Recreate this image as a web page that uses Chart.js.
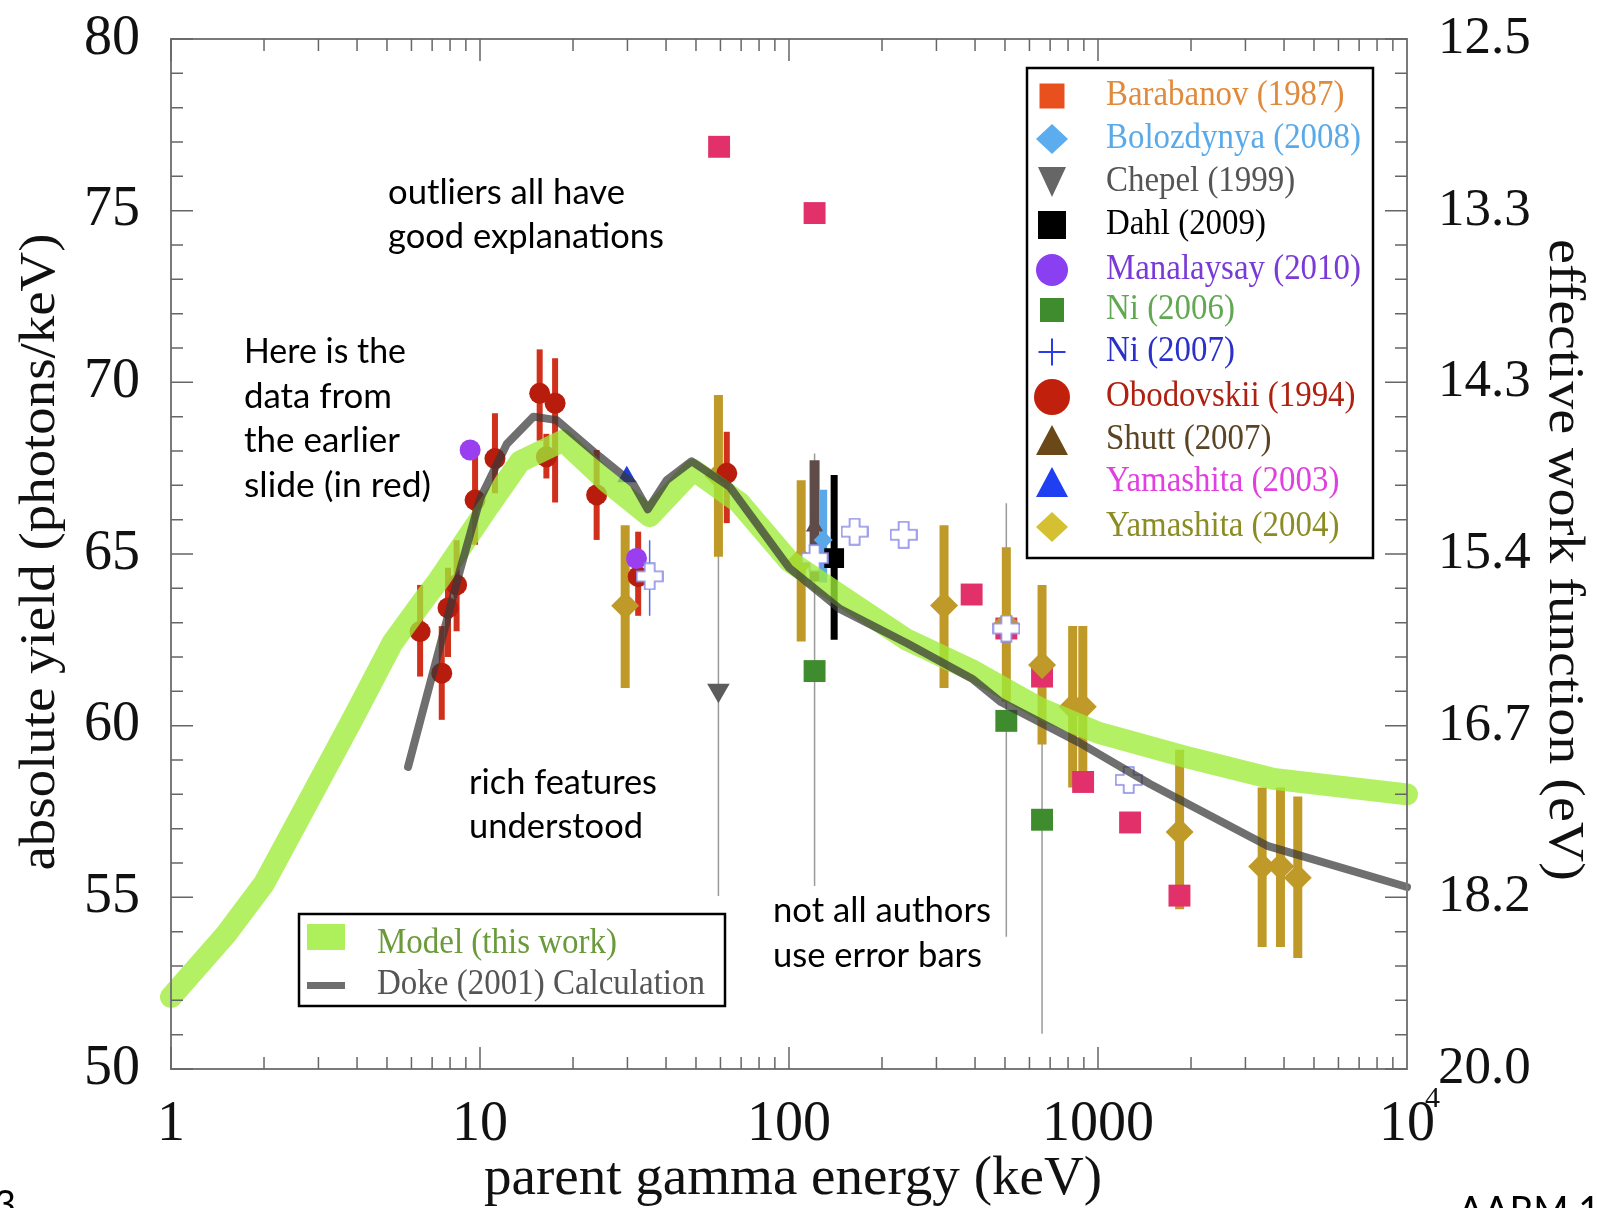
<!DOCTYPE html>
<html>
<head>
<meta charset="utf-8">
<script src="https://cdn.jsdelivr.net/npm/chart.js@4.4.0/dist/chart.umd.min.js"></script>
<style>
  html, body { margin: 0; padding: 0; background: #fff; }
  canvas { display: block; }
</style>
</head>
<body>
<canvas id="graph" width="1597" height="1208"></canvas>
<script>
//---------------------------------------------------------------------
// DATA (energy in keV, yield in photons/keV)
//---------------------------------------------------------------------
const modelX = [1, 1.5, 2, 2.6, 3.9, 5.2, 6.5, 7.3, 10.5, 13.5, 18.6, 25.8, 35.4, 49, 69, 100, 146, 241, 394, 650, 1000, 2000, 3700, 10000];
const modelY = [52.1, 53.9, 55.4, 57.3, 60.25, 62.4, 63.6, 64.2, 66.3, 67.7, 68.3, 67.1, 66.1, 67.45, 66.5, 64.8, 63.8, 62.5, 61.6, 60.5, 59.8, 59.05, 58.45, 58.0];

const dokeX = [5.85, 8.6, 10, 12.2, 14.9, 17.7, 23.9, 31.3, 34.9, 40.2, 48.4, 64.4, 100, 146, 241, 394, 483, 873, 1473, 3531, 10000];
const dokeY = [58.8, 64.5, 66.6, 68.2, 69.0, 68.9, 67.9, 67.05, 66.3, 67.15, 67.7, 66.95, 64.6, 63.4, 62.4, 61.35, 60.7, 59.5, 58.3, 56.5, 55.3];

const barabanovX = [59.4, 121, 390, 505, 659, 895, 1270, 1835];
const barabanovY = [76.86, 74.93, 63.82, 62.83, 61.43, 58.36, 57.18, 55.05];

const bolozdynyaX = [129];
const bolozdynyaY = [65.41];
const bolozdynyaLo = [64.17];
const bolozdynyaHi = [66.87];

const chepelX = [59.1];
const chepelY = [61.03];
const chepelLo = [55.04];
const chepelHi = [67.0];

const dahlX = [140];
const dahlY = [64.88];
const dahlLo = [62.5];
const dahlHi = [67.3];

const manalaysayX = [9.29, 32.1];
const manalaysayY = [68.03, 64.87];

const ni2006X = [121, 505, 659];
const ni2006Y = [61.59, 60.14, 57.26];
const ni2006Lo = [55.33, 53.85, 51.03];
const ni2006Hi = [67.93, 66.48, 63.5];

const ni2007X = [35.4, 121, 163, 235, 505, 1257];
const ni2007Y = [64.35, 64.88, 65.65, 65.56, 62.83, 58.42];
const ni2007Lo = [63.2, null, null, null, null, null];
const ni2007Hi = [65.4, null, null, null, null, null];

const obodovskiiX = [6.4, 7.52, 7.88, 8.4, 9.64, 11.18, 15.6, 16.4, 17.5, 23.85, 32.5, 62.9];
const obodovskiiY = [62.74, 61.53, 63.43, 64.1, 66.57, 67.78, 69.68, 67.83, 69.39, 66.72, 64.34, 67.35];
const obodovskiiLo = [61.43, 60.17, 62.0, 62.75, 65.27, 66.77, 68.3, 67.2, 66.5, 65.41, 63.2, 65.9];
const obodovskiiHi = [64.1, 62.9, 64.6, 65.4, 68.0, 69.1, 70.96, 68.5, 70.7, 68.03, 65.65, 68.56];

const shuttX = [121];
const shuttY = [65.8];
const shuttLo = [64.2];
const shuttHi = [67.73];

const yama2003X = [29.85];
const yama2003Y = [67.25];

const yama2004X = [29.5, 59.1, 109.5, 317.5, 505, 659, 828, 893, 1837, 3398, 3895, 4431];
const yama2004Y = [63.49, 67.27, 64.8, 63.5, 62.95, 61.77, 60.55, 60.55, 56.9, 55.9, 55.9, 55.57];
const yama2004Lo = [61.1, 64.92, 62.45, 61.1, 60.7, 59.45, 58.2, 58.2, 54.65, 53.55, 53.55, 53.23];
const yama2004Hi = [65.84, 69.63, 67.15, 65.84, 65.2, 64.1, 62.9, 62.9, 59.3, 58.2, 58.2, 57.94];

// axes
const xTicks = [1, 10, 100, 1000, 10000];
const xTickLabels = ['1', '10', '100', '1000', '10'];
const yTicks = [50, 55, 60, 65, 70, 75, 80];
const yLeftLabels = ['50', '55', '60', '65', '70', '75', '80'];
const yRightLabels = ['20.0', '18.2', '16.7', '15.4', '14.3', '13.3', '12.5'];

const xTitle = 'parent gamma energy (keV)';
const yTitle = 'absolute yield (photons/keV)';
const y2Title = 'effective work function (eV)';

const legendLabels = ['Barabanov (1987)', 'Bolozdynya (2008)', 'Chepel (1999)', 'Dahl (2009)', 'Manalaysay (2010)',
  'Ni (2006)', 'Ni (2007)', 'Obodovskii (1994)', 'Shutt (2007)', 'Yamashita (2003)', 'Yamashita (2004)'];
const curveLabels = ['Model (this work)', 'Doke (2001) Calculation'];

//---------------------------------------------------------------------
// HELPERS
//---------------------------------------------------------------------
const SERIF = '"Liberation Serif", "Times New Roman", serif';
const SANS = 'Lato, "Open Sans", sans-serif';

const pts = (xs, ys) => xs.map((x, i) => ({ x: x, y: ys[i] }));

// hollow fat cross used by Ni (2007)
function makeCross(size, arm, stroke) {
    const c = document.createElement('canvas');
    c.width = c.height = size;
    const g = c.getContext('2d');
    const s = 1, e = size - 1, a = (size - arm) / 2, b = a + arm;
    g.beginPath();
    g.moveTo(a, s); g.lineTo(b, s); g.lineTo(b, a); g.lineTo(e, a); g.lineTo(e, b); g.lineTo(b, b);
    g.lineTo(b, e); g.lineTo(a, e); g.lineTo(a, b); g.lineTo(s, b); g.lineTo(s, a); g.lineTo(a, a);
    g.closePath();
    g.fillStyle = '#fff';
    g.fill();
    g.strokeStyle = stroke;
    g.lineWidth = 1.6;
    g.stroke();
    return c;
}

function stretchText(ctx, text, x, y, font, width, align, angle) {
    ctx.save();
    ctx.translate(x, y);
    if (angle) ctx.rotate(angle);
    ctx.font = font;
    const w = ctx.measureText(text).width;
    ctx.scale(width ? width / w : 1, 1);
    ctx.textAlign = align || 'left';
    ctx.fillText(text, 0, 0);
    ctx.restore();
}

function marker(ctx, kind, x, y, w, h, color) {
    ctx.fillStyle = color;
    ctx.strokeStyle = color;
    ctx.beginPath();
    if (kind === 'square') {
        ctx.rect(x - w / 2, y - h / 2, w, h);
    } else if (kind === 'diamond') {
        ctx.moveTo(x, y - h / 2); ctx.lineTo(x + w / 2, y); ctx.lineTo(x, y + h / 2); ctx.lineTo(x - w / 2, y);
    } else if (kind === 'circle') {
        ctx.arc(x, y, w / 2, 0, Math.PI * 2);
    } else if (kind === 'tri') {
        ctx.moveTo(x, y - h / 2); ctx.lineTo(x + w / 2, y + h / 2); ctx.lineTo(x - w / 2, y + h / 2);
    } else if (kind === 'tridown') {
        ctx.moveTo(x - w / 2, y - h / 2); ctx.lineTo(x + w / 2, y - h / 2); ctx.lineTo(x, y + h / 2);
    } else if (kind === 'plus') {
        ctx.lineWidth = 2;
        ctx.moveTo(x - w / 2, y); ctx.lineTo(x + w / 2, y);
        ctx.moveTo(x, y - h / 2); ctx.lineTo(x, y + h / 2);
        ctx.stroke();
        return;
    }
    ctx.closePath();
    ctx.fill();
}

//---------------------------------------------------------------------
// PLUGINS
//---------------------------------------------------------------------
// vertical error bars, under the markers
const errorBars = {
    id: 'errorBars',
    beforeDatasetsDraw(chart) {
        const ctx = chart.ctx, sx = chart.scales.x, sy = chart.scales.y;
        const sets = chart.data.datasets.filter(d => d.errLo).sort((a, b) => a.errZ - b.errZ);
        ctx.save();
        ctx.lineCap = 'butt';
        sets.forEach(ds => {
            ctx.strokeStyle = ds.errColor;
            ctx.lineWidth = ds.errWidth;
            ds.data.forEach((p, i) => {
                if (ds.errLo[i] == null) return;
                const px = sx.getPixelForValue(p.x);
                ctx.beginPath();
                ctx.moveTo(px, sy.getPixelForValue(ds.errLo[i]));
                ctx.lineTo(px, sy.getPixelForValue(ds.errHi[i]));
                ctx.stroke();
            });
        });
        ctx.restore();
    }
};

// box, inward ticks, titles, legends, notes
const decorations = {
    id: 'decorations',
    afterDraw(chart) {
        const ctx = chart.ctx, a = chart.chartArea;
        const sx = chart.scales.x, sy = chart.scales.y;
        ctx.save();

        // frame + ticks
        ctx.strokeStyle = '#7a7a7a';
        ctx.lineWidth = 2;
        ctx.strokeRect(a.left, a.top, a.right - a.left, a.bottom - a.top);
        ctx.strokeStyle = '#666';
        ctx.lineWidth = 1.5;
        ctx.beginPath();
        for (let v = 50; v <= 80; v++) {
            const py = sy.getPixelForValue(v), len = v % 5 === 0 ? 22 : 12;
            ctx.moveTo(a.left, py); ctx.lineTo(a.left + len, py);
            ctx.moveTo(a.right, py); ctx.lineTo(a.right - len, py);
        }
        for (let k = 0; k < 4; k++) {
            for (let m = 1; m <= 9; m++) {
                const px = sx.getPixelForValue(m * Math.pow(10, k)), len = m === 1 ? 22 : 12;
                ctx.moveTo(px, a.bottom); ctx.lineTo(px, a.bottom - len);
                ctx.moveTo(px, a.top); ctx.lineTo(px, a.top + len);
            }
        }
        ctx.stroke();

        // exponent of 10^4
        ctx.fillStyle = '#111';
        ctx.font = '30px ' + SERIF;
        ctx.textBaseline = 'top';
        ctx.fillText('4', sx.getPixelForValue(10000) + 18, 1084);

        // axis titles
        ctx.textBaseline = 'middle';
        stretchText(ctx, xTitle, 793, 1180, '54px ' + SERIF, 618, 'center');
        stretchText(ctx, yTitle, 41, 552, '50px ' + SERIF, 637, 'center', -Math.PI / 2);
        stretchText(ctx, y2Title, 1563, 560, '50px ' + SERIF, 642, 'center', Math.PI / 2);

        // legend of the data sets
        const legendStyle = [
            ['square', 25, 25, '#e8501e', '#e08a3c'],
            ['diamond', 32, 30, '#5cacf0', '#5aaaea'],
            ['tridown', 28, 30, '#666666', '#555555'],
            ['square', 28, 28, '#000000', '#000000'],
            ['circle', 32, 32, '#8a3ff0', '#7a3ad8'],
            ['square', 24, 24, '#3e8c2e', '#62a852'],
            ['plus', 27, 27, '#2a3ce8', '#2a30c8'],
            ['circle', 36, 36, '#c0200c', '#b02010'],
            ['tri', 32, 30, '#6a4818', '#5a4424'],
            ['tri', 32, 30, '#1e40f0', '#e040e0'],
            ['diamond', 32, 30, '#d4c030', '#8c8c24']
        ];
        const rowY = [96, 139, 182, 225, 270, 310, 352, 397, 440, 482, 527];
        ctx.fillStyle = '#fff';
        ctx.fillRect(1027, 68, 346, 490);
        ctx.strokeStyle = '#000';
        ctx.lineWidth = 2.5;
        ctx.strokeRect(1027, 68, 346, 490);
        legendLabels.forEach((t, i) => {
            const s = legendStyle[i];
            marker(ctx, s[0], 1052, rowY[i], s[1], s[2], s[3]);
            ctx.fillStyle = s[4];
            ctx.font = '35px ' + SERIF;
            stretchText(ctx, t, 1106, rowY[i], '35px ' + SERIF, ctx.measureText(t).width * 0.94, 'left');
        });

        // legend of the curves
        ctx.fillStyle = '#fff';
        ctx.fillRect(299, 914, 426, 92);
        ctx.strokeStyle = '#000';
        ctx.lineWidth = 2.5;
        ctx.strokeRect(299, 914, 426, 92);
        ctx.fillStyle = '#aef05c';
        ctx.fillRect(307, 924, 38, 26);
        ctx.fillStyle = '#6e6e6e';
        ctx.fillRect(307, 982, 38, 7);
        ctx.fillStyle = '#6a9a3a';
        stretchText(ctx, curveLabels[0], 377, 944, '35px ' + SERIF, 240, 'left');
        ctx.fillStyle = '#555';
        stretchText(ctx, curveLabels[1], 377, 985, '35px ' + SERIF, 328, 'left');

        // notes on the slide
        const notes = [
            ['outliers all have', 388, 204, 237],
            ['good explanations', 388, 248, 276],
            ['Here is the', 244, 363, 162],
            ['data from', 244, 408, 148],
            ['the earlier', 244, 452, 156],
            ['slide (in red)', 244, 497, 187],
            ['rich features', 469, 794, 188],
            ['understood', 469, 838, 174],
            ['not all authors', 773, 922, 218],
            ['use error bars', 773, 967, 209]
        ];
        ctx.fillStyle = '#000';
        ctx.textBaseline = 'alphabetic';
        notes.forEach(n => stretchText(ctx, n[0], n[1], n[2], '34px ' + SANS, n[3], 'left'));
        ctx.font = '38px ' + SANS;
        ctx.fillText('3', -6, 1218);
        ctx.fillText('AARM 1', 1458, 1224);

        ctx.restore();
    }
};

//---------------------------------------------------------------------
// CHART
//---------------------------------------------------------------------
const ni2007Cross = makeCross(28, 10, '#8c8ce6');

const dataSets = [
    { label: curveLabels[1], data: pts(dokeX, dokeY), showLine: true, pointRadius: 0, borderColor: 'rgba(55,55,55,0.72)',
      borderWidth: 8, tension: 0, borderCapStyle: 'round', borderJoinStyle: 'round', clip: false, order: 0 },
    { label: curveLabels[0], data: pts(modelX, modelY), showLine: true, pointRadius: 0, borderColor: 'rgba(159,236,56,0.78)',
      borderWidth: 22, tension: 0, borderCapStyle: 'round', borderJoinStyle: 'round', clip: false, order: 1 },
    { label: legendLabels[6], data: pts(ni2007X, ni2007Y), pointStyle: ni2007Cross, pointRadius: 12, order: 2,
      errLo: ni2007Lo, errHi: ni2007Hi, errColor: '#5a6ae0', errWidth: 1.5, errZ: 1 },
    { label: legendLabels[4], data: pts(manalaysayX, manalaysayY), pointStyle: 'circle', pointRadius: 10.5,
      backgroundColor: '#9a3ff0', borderWidth: 0, order: 3 },
    { label: legendLabels[3], data: pts(dahlX, dahlY), pointStyle: 'rect', pointRadius: 14, backgroundColor: '#000',
      borderWidth: 0, order: 4, errLo: dahlLo, errHi: dahlHi, errColor: '#000', errWidth: 7, errZ: 6 },
    { label: legendLabels[1], data: pts(bolozdynyaX, bolozdynyaY), pointStyle: 'rectRot', pointRadius: 9.5,
      backgroundColor: '#5aa8e8', borderWidth: 0, order: 5, errLo: bolozdynyaLo, errHi: bolozdynyaHi, errColor: '#5aa8e8', errWidth: 8, errZ: 5 },
    { label: legendLabels[8], data: pts(shuttX, shuttY), pointStyle: 'triangle', pointRadius: 10, backgroundColor: '#5f4c48',
      borderWidth: 0, order: 6, errLo: shuttLo, errHi: shuttHi, errColor: '#5f4c48', errWidth: 10, errZ: 4 },
    { label: legendLabels[9], data: pts(yama2003X, yama2003Y), pointStyle: 'triangle', pointRadius: 11,
      backgroundColor: '#1e3cd8', borderWidth: 0, order: 7 },
    { label: legendLabels[7], data: pts(obodovskiiX, obodovskiiY), pointStyle: 'circle', pointRadius: 10.5,
      backgroundColor: '#b81c0c', borderWidth: 0, order: 8, errLo: obodovskiiLo, errHi: obodovskiiHi, errColor: '#d0301c', errWidth: 6, errZ: 2 },
    { label: legendLabels[2], data: pts(chepelX, chepelY), pointStyle: 'triangle', rotation: 180, pointRadius: 13,
      backgroundColor: '#5c5c5c', borderWidth: 0, order: 9, errLo: chepelLo, errHi: chepelHi, errColor: '#9a9a9a', errWidth: 1.5, errZ: 0 },
    { label: legendLabels[10], data: pts(yama2004X, yama2004Y), pointStyle: 'rectRot', pointRadius: 14,
      backgroundColor: '#c09a28', borderWidth: 0, order: 10, errLo: yama2004Lo, errHi: yama2004Hi, errColor: '#c09a28', errWidth: 9, errZ: 3 },
    { label: legendLabels[0], data: pts(barabanovX, barabanovY), pointStyle: 'rect', pointRadius: 15.5,
      backgroundColor: '#e2306a', borderWidth: 0, order: 11 },
    { label: legendLabels[5], data: pts(ni2006X, ni2006Y), pointStyle: 'rect', pointRadius: 15.5,
      backgroundColor: '#3e8c2e', borderWidth: 0, order: 12, errLo: ni2006Lo, errHi: ni2006Hi, errColor: '#9a9a9a', errWidth: 1.5, errZ: 0 }
];

const tickFont = { family: 'Liberation Serif', size: 56 };

// fix the box sizes and drop the label overhang padding
const fitY = w => s => { s.width = w; s.paddingTop = 0; s.paddingBottom = 0; };

new Chart(document.getElementById('graph'), {
    type: 'scatter',
    data: { datasets: dataSets },
    options: {
        responsive: false,
        devicePixelRatio: 1,
        animation: false,
        events: [],
        layout: { padding: { top: 39, left: 0, right: 0, bottom: 0 } },
        plugins: { legend: { display: false }, tooltip: { enabled: false } },
        scales: {
            x: {
                type: 'logarithmic',
                min: 1,
                max: 10000,
                position: 'bottom',
                grid: { display: false, drawTicks: false },
                border: { display: false },
                afterBuildTicks: s => { s.ticks = xTicks.map(v => ({ value: v })); },
                afterFit: s => { s.height = 139; s.paddingLeft = 0; s.paddingRight = 0; },
                ticks: {
                    autoSkip: false, maxRotation: 0, padding: 23, color: '#111', font: tickFont,
                    callback: (v, i) => xTickLabels[i]
                }
            },
            y: {
                type: 'linear',
                min: 50,
                max: 80,
                position: 'left',
                grid: { display: false, drawTicks: false },
                border: { display: false },
                afterBuildTicks: s => { s.ticks = yTicks.map(v => ({ value: v })); },
                afterFit: fitY(171),
                ticks: { padding: 31, color: '#111', font: tickFont, callback: (v, i) => yLeftLabels[i] }
            },
            y2: {
                type: 'linear',
                min: 50,
                max: 80,
                position: 'right',
                grid: { display: false, drawTicks: false },
                border: { display: false },
                afterBuildTicks: s => { s.ticks = yTicks.map(v => ({ value: v })); },
                afterFit: fitY(190),
                ticks: { padding: 31, color: '#111', font: { family: 'Liberation Serif', size: 53 }, callback: (v, i) => yRightLabels[i] }
            }
        }
    },
    plugins: [errorBars, decorations]
});
</script>
</body>
</html>
